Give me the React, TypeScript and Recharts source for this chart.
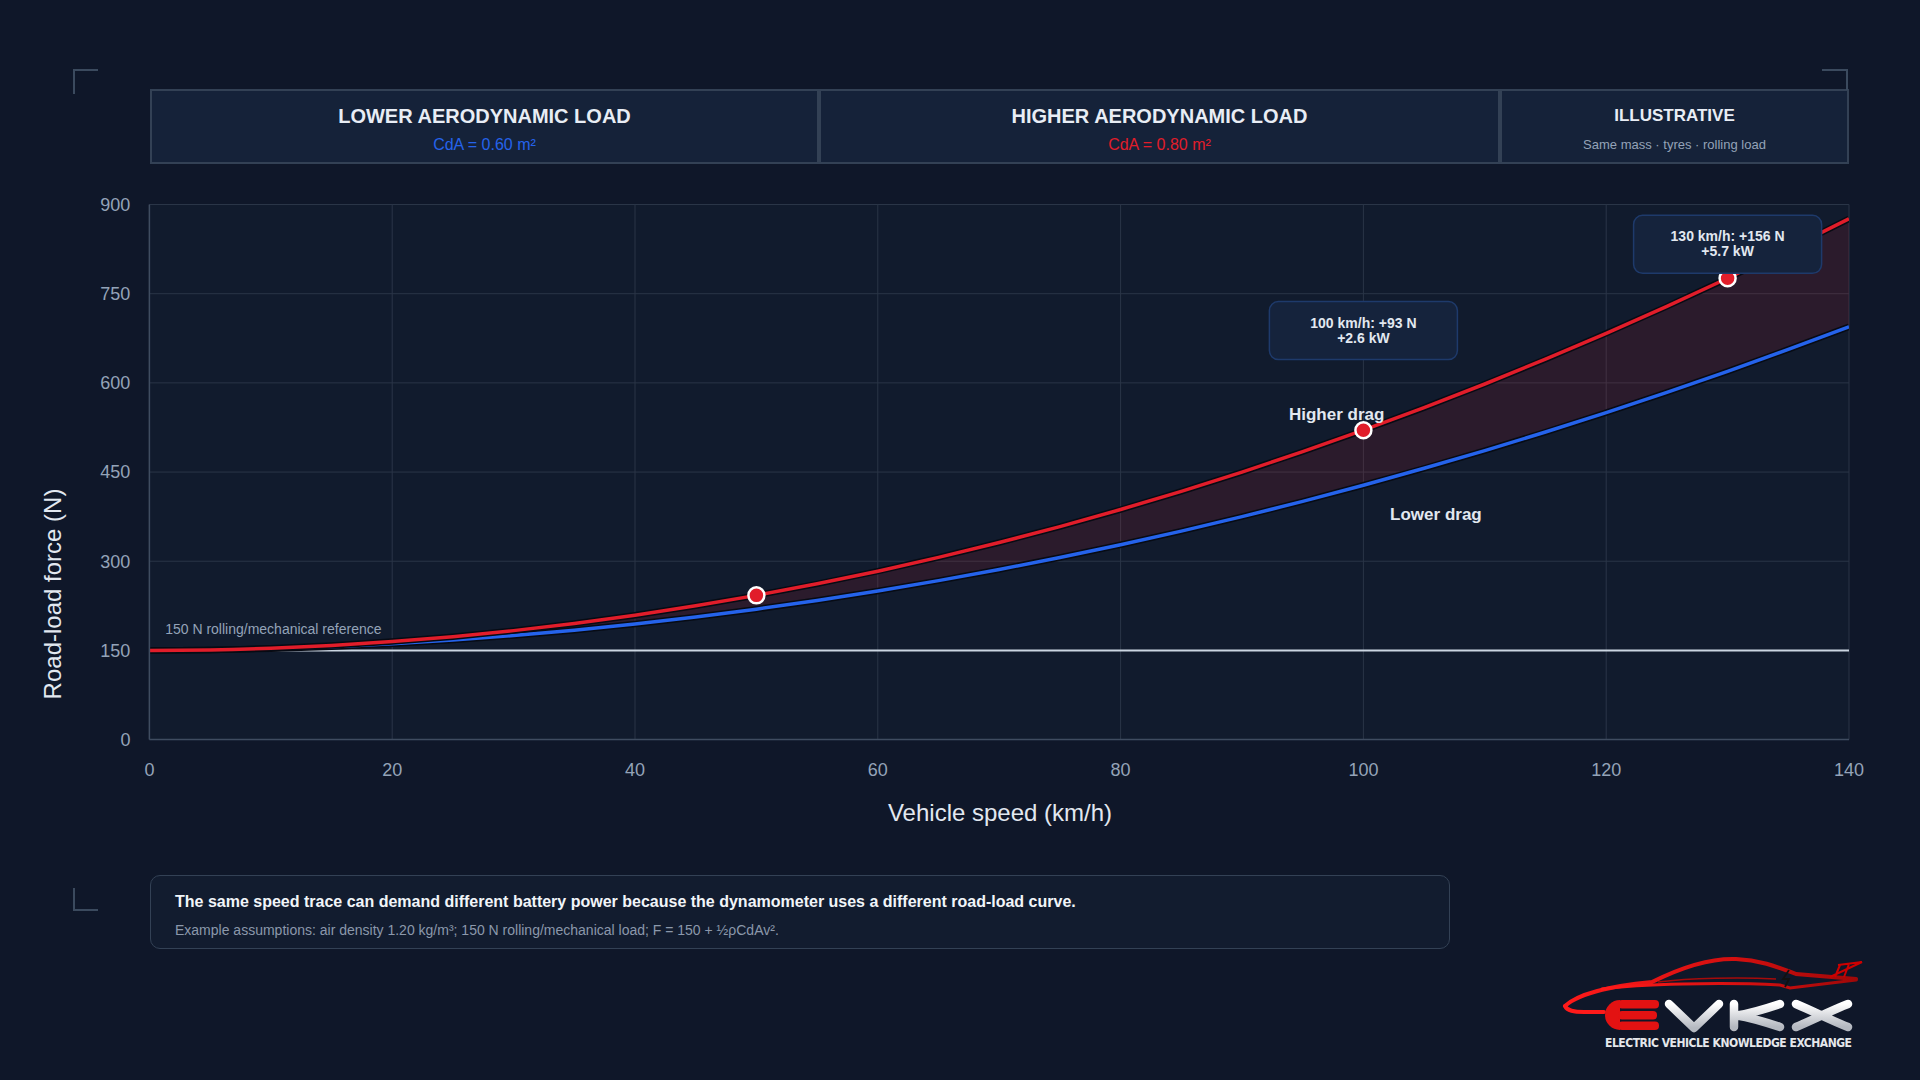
import React from "react";
import {
  ComposedChart,
  Line,
  Area,
  XAxis,
  YAxis,
  CartesianGrid,
  ReferenceLine,
  ReferenceDot,
} from "recharts";

// ---------- data ----------
const speeds = [0, 5, 10, 15, 20, 25, 30, 35, 40, 45, 50, 55, 60, 65, 70, 75, 80, 85, 90, 95, 100, 105, 110, 115, 120, 125, 130, 135, 140];
const lowerDrag = [150, 150.7, 152.8, 156.3, 161.1, 167.4, 175.0, 184.0, 194.4, 206.3, 219.4, 234.0, 250.0, 267.4, 286.1, 306.3, 327.8, 350.7, 375.0, 400.7, 427.8, 456.3, 486.1, 517.3, 550.0, 584.0, 619.4, 656.3, 694.4];
const higherDrag = [150, 150.9, 153.7, 158.3, 164.8, 173.1, 183.3, 195.4, 209.3, 225.0, 242.6, 262.0, 283.3, 306.5, 331.5, 358.3, 387.0, 417.6, 450.0, 484.3, 520.4, 558.3, 598.1, 639.8, 683.3, 728.7, 775.9, 825.0, 875.9];
const xTicks = [0, 20, 40, 60, 80, 100, 120, 140];
const yTicks = [0, 150, 300, 450, 600, 750, 900];
const referenceLoad = 150;
const markerSpeeds = [50, 100, 130];
const calloutSpeeds = [100, 130];
const calloutLines = [
  ["100 km/h: +93 N", "+2.6 kW"],
  ["130 km/h: +156 N", "+5.7 kW"],
];
const headerTitles = ["LOWER AERODYNAMIC LOAD", "HIGHER AERODYNAMIC LOAD", "ILLUSTRATIVE"];
const headerSubs = ["CdA = 0.60 m²", "CdA = 0.80 m²", "Same mass · tyres · rolling load"];

const data = speeds.map((s, i) => ({
  speed: s,
  lower: lowerDrag[i],
  higher: higherDrag[i],
  band: [lowerDrag[i], higherDrag[i]],
}));

// ---------- style ----------
const BG = "#0f1729";
const PLOT_BG = "#111b2d";
const GRID = "#2a3547";
const RED = "#e11d2a";
const BLUE = "#2563eb";
const FONT = '"Liberation Sans", Arial, Helvetica, sans-serif';

// annotation positions (data coords)
const calloutY = [688, 833];

const CalloutShape = (props: any) => {
  const { cx, cy, lines } = props;
  return (
    <g>
      <rect x={cx - 94} y={cy - 29} width={188} height={58} rx={9} ry={9} fill="#15233c" stroke="#1e3a6b" strokeWidth={1.5} />
      <text x={cx} y={cy - 8} textAnchor="middle" dominantBaseline="central" fontFamily={FONT} fontWeight="bold" fontSize={14} fill="#e2e8f0">
        {lines[0]}
      </text>
      <text x={cx} y={cy + 7} textAnchor="middle" dominantBaseline="central" fontFamily={FONT} fontWeight="bold" fontSize={14} fill="#e2e8f0">
        {lines[1]}
      </text>
    </g>
  );
};

const TextShape = (props: any) => {
  const { cx, cy, text, anchor, size, weight, color } = props;
  return (
    <text x={cx} y={cy} textAnchor={anchor} dominantBaseline="central" fontFamily={FONT} fontSize={size} fontWeight={weight} fill={color}>
      {text}
    </text>
  );
};

const Header = () => {
  const boxes = [
    { left: 150, width: 669, sub: BLUE },
    { left: 819, width: 681, sub: RED },
    { left: 1500, width: 349, sub: "#94a3b8" },
  ];
  return (
    <>
      {boxes.map((b, i) => (
        <div
          key={i}
          style={{
            position: "absolute",
            left: b.left,
            top: 89,
            width: b.width,
            height: 75,
            boxSizing: "border-box",
            background: "#152239",
            border: "2px solid #334155",
            fontFamily: FONT,
            textAlign: "center",
          }}
        >
          <div
            style={{
              position: "absolute",
              left: 0,
              right: 0,
              top: 13,
              fontSize: i === 2 ? 17 : 20,
              fontWeight: "bold",
              color: "#e8edf5",
              lineHeight: "24px",
            }}
          >
            {headerTitles[i]}
          </div>
          <div
            style={{
              position: "absolute",
              left: 0,
              right: 0,
              top: 44,
              fontSize: i === 2 ? 13 : 16,
              color: b.sub,
              lineHeight: "20px",
            }}
          >
            {headerSubs[i]}
          </div>
        </div>
      ))}
    </>
  );
};

const Footer = () => (
  <div
    style={{
      position: "absolute",
      left: 150,
      top: 875,
      width: 1300,
      height: 74,
      boxSizing: "border-box",
      background: "#121c2f",
      border: "1.5px solid #334155",
      borderRadius: 10,
      fontFamily: FONT,
    }}
  >
    <div style={{ position: "absolute", left: 24, top: 16, fontSize: 16, fontWeight: "bold", color: "#f1f5f9", lineHeight: "20px", whiteSpace: "nowrap" }}>
      The same speed trace can demand different battery power because the dynamometer uses a different road-load curve.
    </div>
    <div style={{ position: "absolute", left: 24, top: 45, fontSize: 14, color: "#8b98ab", lineHeight: "18px", whiteSpace: "nowrap" }}>
      Example assumptions: air density 1.20 kg/m³; 150 N rolling/mechanical load; F = 150 + ½ρCdAv².
    </div>
  </div>
);

const Overlay = () => (
  <svg width={1920} height={1080} style={{ position: "absolute", left: 0, top: 0, pointerEvents: "none" }}>
    <defs>
      <linearGradient id="carGrad" x1="0" y1="0" x2="1" y2="0">
        <stop offset="0" stopColor="#ff1a1a" />
        <stop offset="0.6" stopColor="#d10f0f" />
        <stop offset="1" stopColor="#a00808" />
      </linearGradient>
      <linearGradient id="silver" x1="0" y1="0" x2="0" y2="1">
        <stop offset="0" stopColor="#ffffff" />
        <stop offset="1" stopColor="#b4b8c0" />
      </linearGradient>
    </defs>
    {/* corner marks */}
    <path d="M74 94 L74 70 L98 70" fill="none" stroke="#3b4a5e" strokeWidth={2} />
    <path d="M1822 70 L1847 70 L1847 90" fill="none" stroke="#3b4a5e" strokeWidth={2} />
    <path d="M74 888 L74 910 L98 910" fill="none" stroke="#3b4a5e" strokeWidth={2} />
    {/* axis titles */}
    <text x={1000} y={812} textAnchor="middle" dominantBaseline="central" fontFamily={FONT} fontSize={24} fill="#e2e8f0">
      Vehicle speed (km/h)
    </text>
    <text x={52} y={594} textAnchor="middle" dominantBaseline="central" fontFamily={FONT} fontSize={24} fill="#e2e8f0" transform="rotate(-90 52 594)">
      Road-load force (N)
    </text>
    {/* logo */}
    <g transform="translate(1540 940)">
      {/* hood + roof */}
      <path d="M25 66 C 40 52, 80 45, 112 42 C 140 28, 168 18, 196 19 C 222 20, 240 28, 256 34 L 316 39" fill="none" stroke="url(#carGrad)" strokeWidth={4} strokeLinecap="round" />
      {/* beltline */}
      <path d="M62 49 C 100 44, 180 42, 240 45 L 250 48 L 316 40" fill="none" stroke="url(#carGrad)" strokeWidth={3} strokeLinecap="round" />
      {/* window */}
      <path d="M118 42 C 150 38, 200 37, 236 39" fill="none" stroke="#a50b0b" strokeWidth={1.5} />
      {/* cable into plug */}
      <path d="M25 66 C 27 71, 34 72, 44 72 L 64 72" fill="none" stroke="#ff1a1a" strokeWidth={4} strokeLinecap="round" />
      {/* spoiler */}
      <path d="M290 37 L 322 22 L 298 25 M 300 25 L 295 37 M 309 24 L 304 37" fill="none" stroke="#c00" strokeWidth={2} />
      {/* bolt */}
      <path d="M249 30 L 243 39 L 249 39 L 245 47" fill="none" stroke="#111" strokeWidth={1.8} />
      {/* E with plug */}
      <path d="M80 60 L 80 90 A 15 15 0 0 1 65 75 A 15 15 0 0 1 80 60 Z" fill="#e31212" />
      <rect x={78} y={60} width={41} height={8.5} rx={4} fill="#e31212" />
      <rect x={78} y={71} width={39} height={8.5} rx={4} fill="#e31212" />
      <rect x={78} y={81.5} width={41} height={8.5} rx={4} fill="#e31212" />
      {/* V K X */}
      <path d="M129 64 L 154 88 L 179 64" fill="none" stroke="url(#silver)" strokeWidth={8.5} strokeLinecap="round" strokeLinejoin="round" />
      <path d="M194 64 L 194 87 M 240 64 C 222 70, 207 74, 197 75.5 C 207 77, 222 81, 240 87" fill="none" stroke="url(#silver)" strokeWidth={8.5} strokeLinecap="round" strokeLinejoin="round" />
      <path d="M256 64 C 275 72, 290 80, 308 87 M 256 87 C 275 79, 290 71, 308 64" fill="none" stroke="url(#silver)" strokeWidth={8.5} strokeLinecap="round" />
      <text x={65} y={103} textLength={247} lengthAdjust="spacing" fontFamily='"Liberation Sans Narrow", "DejaVu Sans Condensed", sans-serif' fontWeight="bold" fontSize={12} fill="#e5e7eb" dominantBaseline="central">
        ELECTRIC VEHICLE KNOWLEDGE EXCHANGE
      </text>
    </g>
  </svg>
);

export default function App() {
  const yAxisW = 80;
  const xAxisH = 60;
  return (
    <div style={{ position: "fixed", left: 0, top: 0, width: 1920, height: 1080, background: BG, overflow: "hidden" }}>
      <Header />
      <div style={{ position: "absolute", left: 0, top: 0 }}>
        <ComposedChart
          width={1920}
          height={1080}
          data={data}
          margin={{ top: 204.5, right: 71, bottom: 340.4 - xAxisH, left: 149.4 - yAxisW }}
        >
          <CartesianGrid stroke={GRID} strokeWidth={1} fill={PLOT_BG} verticalValues={xTicks} horizontalValues={yTicks} />
          <XAxis
            dataKey="speed"
            type="number"
            domain={[0, 140]}
            ticks={xTicks}
            height={xAxisH}
            tickSize={0}
            tickMargin={24}
            axisLine={{ stroke: "#3f4c60", strokeWidth: 1.5 }}
            tick={{ fill: "#94a3b8", fontSize: 18, fontFamily: FONT }}
            allowDataOverflow
          />
          <YAxis
            type="number"
            domain={[0, 900]}
            ticks={yTicks}
            width={yAxisW}
            tickSize={0}
            tickMargin={19}
            axisLine={{ stroke: "#3f4c60", strokeWidth: 1.5 }}
            tick={{ fill: "#94a3b8", fontSize: 18, fontFamily: FONT }}
            allowDataOverflow
          />
          <Area
            type="monotone"
            dataKey="band"
            stroke="none"
            fill={RED}
            fillOpacity={0.13}
            isAnimationActive={false}
            activeDot={false}
          />
          <ReferenceLine y={referenceLoad} stroke="#cbd5e1" strokeWidth={2} />
          <Line type="monotone" dataKey="lower" stroke="#070b14" strokeWidth={6.5} dot={false} activeDot={false} isAnimationActive={false} />
          <Line type="monotone" dataKey="lower" stroke={BLUE} strokeWidth={3.5} dot={false} activeDot={false} isAnimationActive={false} />
          <Line type="monotone" dataKey="higher" stroke="#070b14" strokeWidth={6.5} dot={false} activeDot={false} isAnimationActive={false} />
          <Line type="monotone" dataKey="higher" stroke={RED} strokeWidth={3.5} dot={false} activeDot={false} isAnimationActive={false} />
          <ReferenceDot
            x={1.3}
            y={186}
            r={0}
            shape={(p: any) => <TextShape {...p} text="150 N rolling/mechanical reference" anchor="start" size={14} weight="normal" color="#94a3b8" />}
          />
          {markerSpeeds.map((s) => (
            <ReferenceDot key={s} x={s} y={higherDrag[speeds.indexOf(s)]} r={8} fill={RED} stroke="#ffffff" strokeWidth={2.5} />
          ))}
          <ReferenceDot
            x={97.8}
            y={547.6}
            r={0}
            shape={(p: any) => <TextShape {...p} text="Higher drag" anchor="middle" size={17} weight="bold" color="#e2e8f0" />}
          />
          <ReferenceDot
            x={102.2}
            y={379.4}
            r={0}
            shape={(p: any) => <TextShape {...p} text="Lower drag" anchor="start" size={17} weight="bold" color="#e2e8f0" />}
          />
          {calloutSpeeds.map((s, i) => (
            <ReferenceDot key={"c" + s} x={s} y={calloutY[i]} r={0} shape={(p: any) => <CalloutShape {...p} lines={calloutLines[i]} />} />
          ))}
        </ComposedChart>
      </div>
      <Footer />
      <Overlay />
    </div>
  );
}
